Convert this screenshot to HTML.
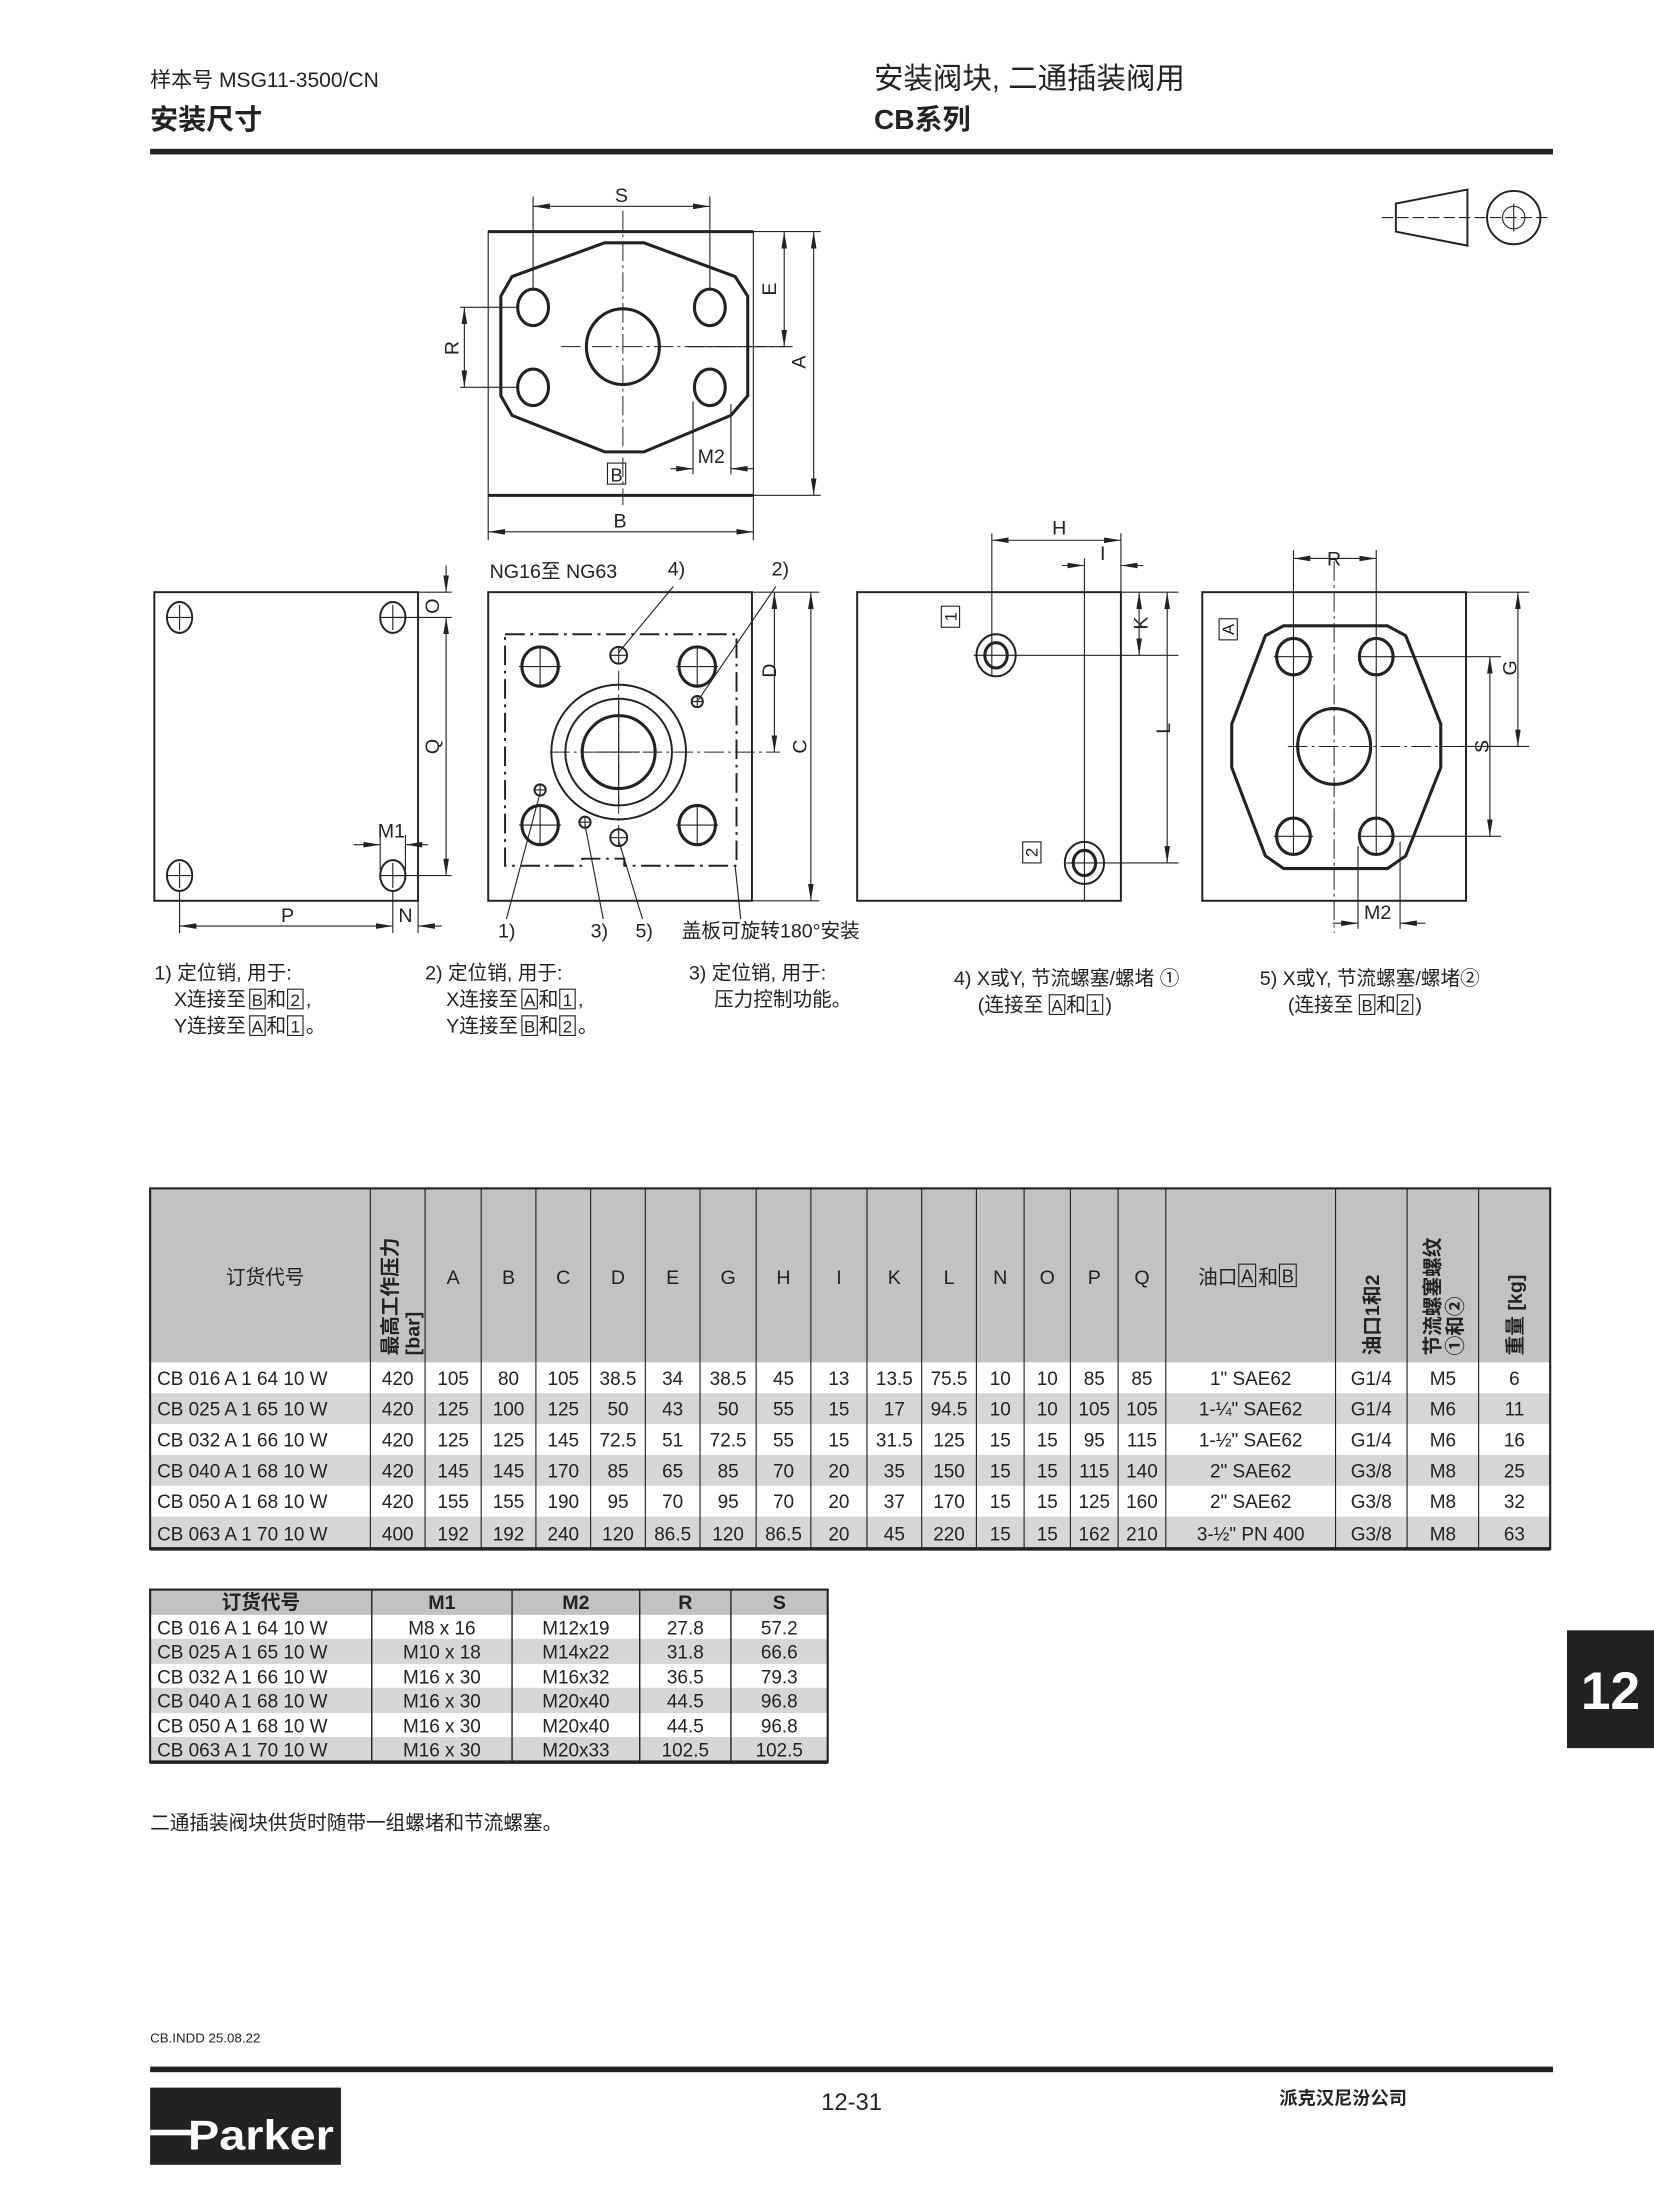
<!DOCTYPE html>
<html><head><meta charset="utf-8"><style>
html,body{margin:0;padding:0;background:#fff;}
svg{display:block;}
text{font-family:"Liberation Sans Narrow","Liberation Sans","Noto Sans CJK SC",sans-serif;fill:#222;}
.cj{font-family:"Liberation Sans","Noto Sans CJK SC",sans-serif;}
.ln{stroke:#222;stroke-width:0.8;fill:none;}
.th{stroke:#222;stroke-width:2.2;fill:none;}
.md{stroke:#222;stroke-width:1.4;fill:none;}
.cl{stroke:#222;stroke-width:0.7;fill:none;stroke-dasharray:14 3 2 3;}
.dd{stroke:#222;stroke-width:1.4;fill:none;stroke-dasharray:14 4 2 4;}
.tc{text-anchor:middle;font-size:13px;}
</style></head><body>
<svg width="1654" height="2200" viewBox="0 0 1179 1568" xmlns="http://www.w3.org/2000/svg">
<defs>
<marker id="a" viewBox="0 0 12 4" refX="12" refY="2" markerWidth="12" markerHeight="4" markerUnits="userSpaceOnUse" orient="auto-start-reverse"><path d="M0,0 L12,2 L0,4 z" fill="#222"/></marker>
</defs>

<!-- header -->
<text x="107" y="62" class="cj" style="font-size:15px">样本号 MSG11-3500/CN</text>
<text x="107" y="92" class="cj" style="font-size:20px;font-weight:bold">安装尺寸</text>
<text x="623" y="63" class="cj" style="font-size:21px">安装阀块, 二通插装阀用</text>
<text x="623" y="92" class="cj" style="font-size:20px;font-weight:bold">CB系列</text>
<rect x="107" y="106" width="1000" height="4" fill="#222"/>

<!-- projection icon -->
<path class="md" d="M995,145 L1046,135 L1046,175 L995,165 Z"/>
<circle cx="1079" cy="155" r="19" class="md"/>
<circle cx="1079" cy="155" r="8" class="ln"/>
<line x1="1079" y1="145" x2="1079" y2="165" class="ln"/>
<line x1="985" y1="155" x2="1105" y2="155" class="ln" stroke-dasharray="8 3"/>

<!-- view 1 top -->
<rect x="348" y="165" width="189" height="188" class="ln" stroke-width="1.2"/>
<line x1="348" y1="165" x2="537" y2="165" class="th"/>
<line x1="348" y1="353" x2="537" y2="353" class="th"/>
<path class="th" d="M431,173 L459,173 L524,197 L533,211 L533,282 L521,296 L459,322 L431,322 L365,296 L357,282 L357,211 L365,197 Z"/>
<ellipse cx="380" cy="219" rx="11" ry="13" class="th"/>
<ellipse cx="506" cy="219" rx="11" ry="13" class="th"/>
<ellipse cx="380" cy="276" rx="11" ry="13" class="th"/>
<ellipse cx="506" cy="276" rx="11" ry="13" class="th"/>
<ellipse cx="444" cy="247" rx="26" ry="27" class="th"/>
<line x1="444" y1="150" x2="444" y2="360" class="cl"/>
<line x1="400" y1="247" x2="560" y2="247" class="cl"/>
<!-- S -->
<line x1="380" y1="140" x2="380" y2="207" class="ln"/><line x1="506" y1="140" x2="506" y2="207" class="ln"/>
<line x1="380" y1="147" x2="506" y2="147" class="ln" marker-start="url(#a)" marker-end="url(#a)"/>
<text x="443" y="144" class="tc" style="font-size:14px">S</text>
<!-- E, A -->
<line x1="537" y1="165" x2="585" y2="165" class="ln"/>
<line x1="537" y1="353" x2="585" y2="353" class="ln"/>
<line x1="490" y1="247" x2="565" y2="247" class="ln"/>
<line x1="559" y1="165" x2="559" y2="247" class="ln" marker-start="url(#a)" marker-end="url(#a)"/>
<text transform="translate(553,206) rotate(-90)" class="tc" style="font-size:14px">E</text>
<line x1="580" y1="165" x2="580" y2="353" class="ln" marker-start="url(#a)" marker-end="url(#a)"/>
<text transform="translate(574,258) rotate(-90)" class="tc" style="font-size:14px">A</text>
<!-- R -->
<line x1="328" y1="219" x2="368" y2="219" class="ln"/><line x1="328" y1="276" x2="368" y2="276" class="ln"/>
<line x1="331" y1="219" x2="331" y2="276" class="ln" marker-start="url(#a)" marker-end="url(#a)"/>
<text transform="translate(327,248) rotate(-90)" class="tc" style="font-size:14px">R</text>
<!-- M2 -->
<line x1="494" y1="286" x2="494" y2="338" class="ln"/><line x1="521" y1="288" x2="521" y2="338" class="ln"/>
<line x1="478" y1="334" x2="494" y2="334" class="ln" marker-end="url(#a)"/>
<line x1="537" y1="334" x2="521" y2="334" class="ln" marker-end="url(#a)"/>
<text x="507" y="330" class="tc" style="font-size:14px">M2</text>
<rect x="433" y="330" width="13" height="15" class="ln"/>
<text x="439.5" y="343" class="tc" style="font-size:13px">B</text>
<!-- B -->
<line x1="348" y1="353" x2="348" y2="385" class="ln"/><line x1="537" y1="353" x2="537" y2="385" class="ln"/>
<line x1="348" y1="379" x2="537" y2="379" class="ln" marker-start="url(#a)" marker-end="url(#a)"/>
<text x="442" y="376" class="tc" style="font-size:14px">B</text>

<!-- view 2 -->
<rect x="110" y="422" width="188" height="220" class="md"/>
<g class="md">
<ellipse cx="128" cy="440" rx="9" ry="11"/><ellipse cx="280" cy="440" rx="9" ry="11"/>
<ellipse cx="128" cy="624" rx="9" ry="11"/><ellipse cx="280" cy="624" rx="9" ry="11"/>
</g>
<g class="ln">
<path d="M119,440 h18 M128,431 v18 M271,440 h18 M280,431 v18 M119,624 h18 M128,615 v18 M271,624 h18 M280,615 v18"/>
<line x1="280" y1="440" x2="322" y2="440"/><line x1="298" y1="422" x2="322" y2="422"/><line x1="280" y1="624" x2="322" y2="624"/>
<line x1="128" y1="635" x2="128" y2="665"/><line x1="280" y1="635" x2="280" y2="665"/><line x1="298" y1="642" x2="298" y2="665"/>
<line x1="271" y1="595" x2="271" y2="620"/><line x1="289" y1="595" x2="289" y2="620"/>
</g>
<line x1="318" y1="403" x2="318" y2="422" class="ln" marker-end="url(#a)"/>
<line x1="318" y1="440" x2="318" y2="624" class="ln" marker-start="url(#a)" marker-end="url(#a)"/>
<text transform="translate(313,432) rotate(-90)" class="tc" style="font-size:14px">O</text>
<text transform="translate(313,532) rotate(-90)" class="tc" style="font-size:14px">Q</text>
<line x1="252" y1="602" x2="271" y2="602" class="ln" marker-end="url(#a)"/>
<line x1="305" y1="602" x2="289" y2="602" class="ln" marker-end="url(#a)"/>
<text x="279" y="597" class="tc" style="font-size:14px">M1</text>
<line x1="128" y1="660" x2="280" y2="660" class="ln" marker-start="url(#a)" marker-end="url(#a)"/>
<line x1="315" y1="660" x2="298" y2="660" class="ln" marker-end="url(#a)"/>
<text x="205" y="657" class="tc" style="font-size:14px">P</text>
<text x="289" y="657" class="tc" style="font-size:14px">N</text>

<!-- view 3 -->
<text x="349" y="412" class="cj" style="font-size:14px">NG16至 NG63</text>
<text x="476" y="410" style="font-size:14px">4)</text>
<text x="550" y="410" style="font-size:14px">2)</text>
<rect x="348" y="422" width="188" height="220" class="md"/>
<path class="dd" d="M360,452 H525 V617 H445 V612 H415 V617 H360 Z"/>
<g class="th">
<ellipse cx="385" cy="475" rx="13" ry="14"/><ellipse cx="497" cy="475" rx="13" ry="14"/>
<ellipse cx="385" cy="588" rx="13" ry="14"/><ellipse cx="497" cy="588" rx="13" ry="14"/>
</g>
<g class="md">
<circle cx="441" cy="536" r="48"/><circle cx="441" cy="536" r="38"/><circle cx="441" cy="536" r="26" stroke-width="2.2"/>
<circle cx="441" cy="467" r="6"/><circle cx="441" cy="597" r="6"/>
<circle cx="497" cy="500" r="4"/><circle cx="385" cy="563" r="4"/><circle cx="417" cy="586" r="4"/>
</g>
<g class="ln">
<path d="M370,475 h30 M385,460 v30 M482,475 h30 M497,460 v30 M370,588 h30 M385,573 v30 M482,588 h30 M497,573 v30"/>
<path d="M435,467 h12 M441,461 v12 M435,597 h12 M441,591 v12 M493,500 h8 M497,496 v8 M381,563 h8 M385,559 v8 M413,586 h8 M417,582 v8"/>
<path d="M441,498 v76 M426,536 h30"/>
<line x1="392" y1="536" x2="556" y2="536" class="cl"/>
<line x1="441" y1="478" x2="441" y2="594" class="cl"/>
<line x1="480" y1="418" x2="441" y2="465"/>
<line x1="553" y1="418" x2="497" y2="500"/>
<line x1="361" y1="655" x2="385" y2="565"/>
<line x1="430" y1="655" x2="417" y2="588"/>
<line x1="458" y1="655" x2="441" y2="599"/>
<line x1="528" y1="655" x2="524" y2="617"/>
<line x1="536" y1="422" x2="584" y2="422"/><line x1="536" y1="642" x2="584" y2="642"/>
</g>
<line x1="552" y1="422" x2="552" y2="536" class="ln" marker-start="url(#a)" marker-end="url(#a)"/>
<text transform="translate(553,478) rotate(-90)" class="tc" style="font-size:14px">D</text>
<line x1="578" y1="422" x2="578" y2="642" class="ln" marker-start="url(#a)" marker-end="url(#a)"/>
<text transform="translate(575,532) rotate(-90)" class="tc" style="font-size:14px">C</text>
<text x="355" y="668" style="font-size:14px">1)</text>
<text x="421" y="668" style="font-size:14px">3)</text>
<text x="453" y="668" style="font-size:14px">5)</text>
<text x="486" y="668" class="cj" style="font-size:14px">盖板可旋转180°安装</text>

<!-- view 4 -->
<rect x="611" y="422" width="188" height="220" class="md"/>
<g class="md">
<ellipse cx="710" cy="467" rx="14" ry="15"/><ellipse cx="710" cy="467" rx="8" ry="9" stroke-width="2.2"/>
<ellipse cx="773" cy="615" rx="14" ry="15"/><ellipse cx="773" cy="615" rx="8" ry="9" stroke-width="2.2"/>
</g>
<g class="ln">
<line x1="707" y1="380" x2="707" y2="482"/><line x1="799" y1="380" x2="799" y2="422"/>
<line x1="773" y1="398" x2="773" y2="642"/>
<line x1="694" y1="467" x2="840" y2="467"/><line x1="760" y1="615" x2="840" y2="615"/>
<line x1="799" y1="422" x2="840" y2="422"/>
</g>
<line x1="707" y1="385" x2="799" y2="385" class="ln" marker-start="url(#a)" marker-end="url(#a)"/>
<text x="755" y="381" class="tc" style="font-size:14px">H</text>
<line x1="757" y1="403" x2="773" y2="403" class="ln" marker-end="url(#a)"/>
<line x1="815" y1="403" x2="799" y2="403" class="ln" marker-end="url(#a)"/>
<text x="786" y="399" class="tc" style="font-size:14px">I</text>
<line x1="812" y1="422" x2="812" y2="467" class="ln" marker-start="url(#a)" marker-end="url(#a)"/>
<text transform="translate(818,444) rotate(-90)" class="tc" style="font-size:14px">K</text>
<line x1="832" y1="422" x2="832" y2="615" class="ln" marker-start="url(#a)" marker-end="url(#a)"/>
<text transform="translate(834,519) rotate(-90)" class="tc" style="font-size:14px">L</text>
<rect x="671" y="432" width="13" height="15" class="ln"/>
<text transform="translate(677.5,439.5) rotate(-90)" class="tc" dy="0.35em" style="font-size:12px">1</text>
<rect x="729" y="600" width="13" height="15" class="ln"/>
<text transform="translate(735.5,607.5) rotate(-90)" class="tc" dy="0.35em" style="font-size:12px">2</text>

<!-- view 5 -->
<rect x="857" y="422" width="188" height="220" class="md"/>
<path class="th" d="M915,446 L989,446 L1002,453 L1027,516 L1027,547 L1002,610 L989,619 L915,619 L902,610 L878,547 L878,516 L902,453 Z"/>
<g class="th">
<ellipse cx="922" cy="468" rx="12" ry="13"/><ellipse cx="981" cy="468" rx="12" ry="13"/>
<ellipse cx="922" cy="596" rx="12" ry="13"/><ellipse cx="981" cy="596" rx="12" ry="13"/>
<ellipse cx="951" cy="532" rx="26" ry="27"/>
</g>
<g class="ln">
<path d="M908,468 h28 M970,468 h22 M908,596 h28 M970,596 h22"/>
<line x1="922" y1="392" x2="922" y2="610"/><line x1="981" y1="392" x2="981" y2="610"/>
<line x1="951" y1="400" x2="951" y2="665" class="cl"/>
<line x1="918" y1="532" x2="1040" y2="532" class="cl"/>
<line x1="1045" y1="422" x2="1090" y2="422"/>
<line x1="1040" y1="532" x2="1090" y2="532"/>
<line x1="990" y1="468" x2="1070" y2="468"/><line x1="990" y1="596" x2="1070" y2="596"/>
<line x1="968" y1="603" x2="968" y2="662"/><line x1="998" y1="600" x2="998" y2="662"/>
</g>
<line x1="922" y1="398" x2="981" y2="398" class="ln" marker-start="url(#a)" marker-end="url(#a)"/>
<text x="951" y="403" class="tc" style="font-size:14px">R</text>
<line x1="1082" y1="422" x2="1082" y2="532" class="ln" marker-start="url(#a)" marker-end="url(#a)"/>
<text transform="translate(1081,476) rotate(-90)" class="tc" style="font-size:14px">G</text>
<line x1="1062" y1="468" x2="1062" y2="596" class="ln" marker-start="url(#a)" marker-end="url(#a)"/>
<text transform="translate(1061,532) rotate(-90)" class="tc" style="font-size:14px">S</text>
<line x1="950" y1="658" x2="968" y2="658" class="ln" marker-end="url(#a)"/>
<line x1="1016" y1="658" x2="998" y2="658" class="ln" marker-end="url(#a)"/>
<text x="982" y="655" class="tc" style="font-size:14px">M2</text>
<rect x="869" y="441" width="13" height="15" class="ln"/>
<text transform="translate(875.5,448.5) rotate(-90)" class="tc" dy="0.35em" style="font-size:12px">A</text>

<!-- footnotes -->
<g class="cj" style="font-size:14px">
<text x="110" y="698">1) 定位销, 用于:</text>
<text x="124" y="717">X连接至</text><rect x="178" y="705" width="11" height="14" class="ln"/><text x="183.5" y="717" class="tc" style="font-size:12px">B</text><text x="190" y="717">和</text><rect x="205" y="705" width="11" height="14" class="ln"/><text x="210.5" y="717" class="tc" style="font-size:12px">2</text><text x="218" y="717">,</text>
<text x="124" y="736">Y连接至</text><rect x="178" y="724" width="11" height="14" class="ln"/><text x="183.5" y="736" class="tc" style="font-size:12px">A</text><text x="190" y="736">和</text><rect x="205" y="724" width="11" height="14" class="ln"/><text x="210.5" y="736" class="tc" style="font-size:12px">1</text><text x="218" y="736">。</text>

<text x="303" y="698">2) 定位销, 用于:</text>
<text x="318" y="717">X连接至</text><rect x="372" y="705" width="11" height="14" class="ln"/><text x="377.5" y="717" class="tc" style="font-size:12px">A</text><text x="384" y="717">和</text><rect x="399" y="705" width="11" height="14" class="ln"/><text x="404.5" y="717" class="tc" style="font-size:12px">1</text><text x="412" y="717">,</text>
<text x="318" y="736">Y连接至</text><rect x="372" y="724" width="11" height="14" class="ln"/><text x="377.5" y="736" class="tc" style="font-size:12px">B</text><text x="384" y="736">和</text><rect x="399" y="724" width="11" height="14" class="ln"/><text x="404.5" y="736" class="tc" style="font-size:12px">2</text><text x="412" y="736">。</text>

<text x="491" y="698">3) 定位销, 用于:</text>
<text x="509" y="717">压力控制功能。</text>

<text x="680" y="702">4) X或Y, 节流螺塞/螺堵 ①</text>
<text x="697" y="721">(连接至</text><rect x="748" y="709" width="11" height="14" class="ln"/><text x="753.5" y="721" class="tc" style="font-size:12px">A</text><text x="760" y="721">和</text><rect x="775" y="709" width="11" height="14" class="ln"/><text x="780.5" y="721" class="tc" style="font-size:12px">1</text><text x="788" y="721">)</text>

<text x="898" y="702">5) X或Y, 节流螺塞/螺堵②</text>
<text x="918" y="721">(连接至</text><rect x="969" y="709" width="11" height="14" class="ln"/><text x="974.5" y="721" class="tc" style="font-size:12px">B</text><text x="981" y="721">和</text><rect x="996" y="709" width="11" height="14" class="ln"/><text x="1001.5" y="721" class="tc" style="font-size:12px">2</text><text x="1009" y="721">)</text>
</g>

<!-- table 1 -->
<rect x="107" y="847" width="998" height="124" fill="#c2c2c2"/>
<rect x="107" y="993" width="998" height="22" fill="#d6d6d6"/>
<rect x="107" y="1037" width="998" height="22" fill="#d6d6d6"/>
<rect x="107" y="1081" width="998" height="23" fill="#d6d6d6"/>
<rect x="107" y="847" width="998" height="257" fill="none" stroke="#222" stroke-width="1.5"/>
<line x1="107" y1="1104" x2="1105" y2="1104" stroke="#222" stroke-width="2.5"/>
<g stroke="#222" stroke-width="0.8">
<path d="M264,847V1104 M303,847V1104 M343,847V1104 M382,847V1104 M421,847V1104 M460,847V1104 M499,847V1104 M539,847V1104 M578,847V1104 M618,847V1104 M657,847V1104 M696,847V1104 M730,847V1104 M763,847V1104 M797,847V1104 M831,847V1104 M952,847V1104 M1003,847V1104 M1054,847V1104"/>
</g>
<g class="tc" style="font-size:14px">
<text x="189" y="915" class="cj">订货代号</text>
<text x="323" y="915">A</text><text x="362.5" y="915">B</text><text x="401.5" y="915">C</text><text x="440.5" y="915">D</text><text x="479.5" y="915">E</text><text x="519" y="915">G</text><text x="558.5" y="915">H</text><text x="598" y="915">I</text><text x="637.5" y="915">K</text><text x="676.5" y="915">L</text><text x="713" y="915">N</text><text x="746.5" y="915">O</text><text x="780" y="915">P</text><text x="814" y="915">Q</text>
</g>
<text x="882" y="915" class="cj" style="font-size:14px;text-anchor:end">油口</text>
<rect x="883" y="901" width="12" height="16" class="ln"/><text x="889" y="914" class="tc">A</text>
<text x="897" y="915" class="cj" style="font-size:14px">和</text>
<rect x="912" y="901" width="12" height="16" class="ln"/><text x="918" y="914" class="tc">B</text>
<g class="cj" style="font-size:14px;font-weight:bold">
<text transform="translate(283,966) rotate(-90)">最高工作压力</text>
<text transform="translate(299,966) rotate(-90)">[bar]</text>
<text transform="translate(983,966) rotate(-90)">油口1和2</text>
<text transform="translate(1026,966) rotate(-90)">节流螺塞螺纹</text>
<text transform="translate(1042,966) rotate(-90)">①和②</text>
<text transform="translate(1085,966) rotate(-90)">重量 [kg]</text>
</g>
<g class="tc" style="font-size:13.5px">
<g transform="translate(0,987)">
<text x="112" style="text-anchor:start">CB 016 A 1 64 10 W</text><text x="283.5">420</text><text x="323">105</text><text x="362.5">80</text><text x="401.5">105</text><text x="440.5">38.5</text><text x="479.5">34</text><text x="519">38.5</text><text x="558.5">45</text><text x="598">13</text><text x="637.5">13.5</text><text x="676.5">75.5</text><text x="713">10</text><text x="746.5">10</text><text x="780">85</text><text x="814">85</text><text x="891.5">1" SAE62</text><text x="977.5">G1/4</text><text x="1028.5">M5</text><text x="1079.5">6</text></g>
<g transform="translate(0,1009)">
<text x="112" style="text-anchor:start">CB 025 A 1 65 10 W</text><text x="283.5">420</text><text x="323">125</text><text x="362.5">100</text><text x="401.5">125</text><text x="440.5">50</text><text x="479.5">43</text><text x="519">50</text><text x="558.5">55</text><text x="598">15</text><text x="637.5">17</text><text x="676.5">94.5</text><text x="713">10</text><text x="746.5">10</text><text x="780">105</text><text x="814">105</text><text x="891.5">1-¼" SAE62</text><text x="977.5">G1/4</text><text x="1028.5">M6</text><text x="1079.5">11</text></g>
<g transform="translate(0,1031)">
<text x="112" style="text-anchor:start">CB 032 A 1 66 10 W</text><text x="283.5">420</text><text x="323">125</text><text x="362.5">125</text><text x="401.5">145</text><text x="440.5">72.5</text><text x="479.5">51</text><text x="519">72.5</text><text x="558.5">55</text><text x="598">15</text><text x="637.5">31.5</text><text x="676.5">125</text><text x="713">15</text><text x="746.5">15</text><text x="780">95</text><text x="814">115</text><text x="891.5">1-½" SAE62</text><text x="977.5">G1/4</text><text x="1028.5">M6</text><text x="1079.5">16</text></g>
<g transform="translate(0,1053)">
<text x="112" style="text-anchor:start">CB 040 A 1 68 10 W</text><text x="283.5">420</text><text x="323">145</text><text x="362.5">145</text><text x="401.5">170</text><text x="440.5">85</text><text x="479.5">65</text><text x="519">85</text><text x="558.5">70</text><text x="598">20</text><text x="637.5">35</text><text x="676.5">150</text><text x="713">15</text><text x="746.5">15</text><text x="780">115</text><text x="814">140</text><text x="891.5">2" SAE62</text><text x="977.5">G3/8</text><text x="1028.5">M8</text><text x="1079.5">25</text></g>
<g transform="translate(0,1075)">
<text x="112" style="text-anchor:start">CB 050 A 1 68 10 W</text><text x="283.5">420</text><text x="323">155</text><text x="362.5">155</text><text x="401.5">190</text><text x="440.5">95</text><text x="479.5">70</text><text x="519">95</text><text x="558.5">70</text><text x="598">20</text><text x="637.5">37</text><text x="676.5">170</text><text x="713">15</text><text x="746.5">15</text><text x="780">125</text><text x="814">160</text><text x="891.5">2" SAE62</text><text x="977.5">G3/8</text><text x="1028.5">M8</text><text x="1079.5">32</text></g>
<g transform="translate(0,1098)">
<text x="112" style="text-anchor:start">CB 063 A 1 70 10 W</text><text x="283.5">400</text><text x="323">192</text><text x="362.5">192</text><text x="401.5">240</text><text x="440.5">120</text><text x="479.5">86.5</text><text x="519">120</text><text x="558.5">86.5</text><text x="598">20</text><text x="637.5">45</text><text x="676.5">220</text><text x="713">15</text><text x="746.5">15</text><text x="780">162</text><text x="814">210</text><text x="891.5">3-½" PN 400</text><text x="977.5">G3/8</text><text x="1028.5">M8</text><text x="1079.5">63</text></g>
</g>

<!-- table 2 -->
<rect x="107" y="1133" width="483" height="18" fill="#c2c2c2"/>
<rect x="107" y="1168" width="483" height="18" fill="#d6d6d6"/>
<rect x="107" y="1203" width="483" height="18" fill="#d6d6d6"/>
<rect x="107" y="1238" width="483" height="18" fill="#d6d6d6"/>
<rect x="107" y="1133" width="483" height="123" fill="none" stroke="#222" stroke-width="1.5"/>
<line x1="107" y1="1256" x2="590" y2="1256" stroke="#222" stroke-width="2.5"/>
<path d="M265,1133V1256 M365,1133V1256 M456,1133V1256 M521,1133V1256" stroke="#222" stroke-width="1"/>
<g class="tc" style="font-size:14px;font-weight:bold">
<text x="186" y="1147" class="cj">订货代号</text><text x="315" y="1147">M1</text><text x="410.5" y="1147">M2</text><text x="488.5" y="1147">R</text><text x="555.5" y="1147">S</text>
</g>
<g class="tc" style="font-size:13.5px">
<g transform="translate(0,1165)"><text x="112" style="text-anchor:start">CB 016 A 1 64 10 W</text><text x="315">M8 x 16</text><text x="410.5">M12x19</text><text x="488.5">27.8</text><text x="555.5">57.2</text></g>
<g transform="translate(0,1182)"><text x="112" style="text-anchor:start">CB 025 A 1 65 10 W</text><text x="315">M10 x 18</text><text x="410.5">M14x22</text><text x="488.5">31.8</text><text x="555.5">66.6</text></g>
<g transform="translate(0,1200)"><text x="112" style="text-anchor:start">CB 032 A 1 66 10 W</text><text x="315">M16 x 30</text><text x="410.5">M16x32</text><text x="488.5">36.5</text><text x="555.5">79.3</text></g>
<g transform="translate(0,1217)"><text x="112" style="text-anchor:start">CB 040 A 1 68 10 W</text><text x="315">M16 x 30</text><text x="410.5">M20x40</text><text x="488.5">44.5</text><text x="555.5">96.8</text></g>
<g transform="translate(0,1235)"><text x="112" style="text-anchor:start">CB 050 A 1 68 10 W</text><text x="315">M16 x 30</text><text x="410.5">M20x40</text><text x="488.5">44.5</text><text x="555.5">96.8</text></g>
<g transform="translate(0,1252)"><text x="112" style="text-anchor:start">CB 063 A 1 70 10 W</text><text x="315">M16 x 30</text><text x="410.5">M20x33</text><text x="488.5">102.5</text><text x="555.5">102.5</text></g>
</g>

<!-- tab 12 -->
<rect x="1117" y="1162" width="62" height="84" fill="#222"/>
<text x="1148" y="1218" class="tc" style="font-size:38px;font-weight:bold;fill:#fff;font-family:'Liberation Sans',sans-serif">12</text>

<text x="107" y="1304" class="cj" style="font-size:14px">二通插装阀块供货时随带一组螺堵和节流螺塞。</text>

<!-- footer -->
<text x="107" y="1456" style="font-size:9.5px">CB.INDD 25.08.22</text>
<rect x="107" y="1473" width="1000" height="4" fill="#222"/>
<rect x="107" y="1488" width="136" height="55" fill="#222"/>
<rect x="107" y="1518" width="30" height="4" fill="#fff"/>
<text x="134" y="1532" style="font-size:30px;font-weight:bold;fill:#fff;font-family:'Liberation Sans Narrow','Liberation Sans',sans-serif" textLength="104" lengthAdjust="spacingAndGlyphs">Parker</text>
<text x="607" y="1504" class="tc" style="font-size:17px">12-31</text>
<text x="912" y="1500" class="cj" style="font-size:13px;font-weight:bold">派克汉尼汾公司</text>
</svg>
</body></html>
